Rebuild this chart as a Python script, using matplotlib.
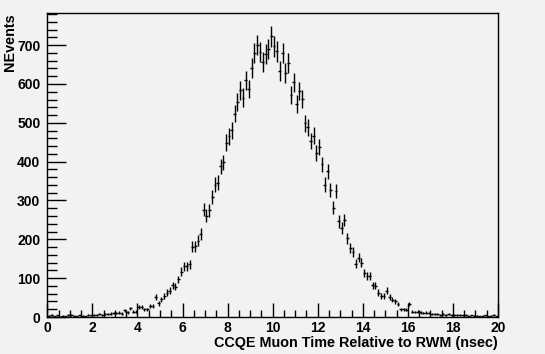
import numpy as np
import matplotlib
matplotlib.use("Agg")
import matplotlib.pyplot as plt
from matplotlib.ticker import MultipleLocator

# histogram: 160 bins between 0 and 20 nsec
bin_lo = 0.0
bin_hi = 20.0
nevents = [
    3, 5, 2, 4, 1, 3, 2, 6,
    5, 3, 2, 4, 3, 2, 5, 4,
    6, 5, 7, 6, 8, 7, 9, 10,
    10, 11, 9, 17, 12, 22, 14, 14,
    25, 25, 20, 20, 28, 28, 52, 35,
    46, 55, 63, 68, 82, 78, 97, 117,
    131, 131, 136, 181, 182, 196, 214, 276,
    261, 275, 309, 341, 346, 388, 398, 449,
    465, 481, 524, 554, 584, 565, 610, 587,
    641, 679, 700, 683, 657, 677, 690, 723,
    697, 684, 634, 680, 628, 654, 572, 604,
    548, 582, 561, 499, 488, 453, 467, 423,
    438, 393, 341, 375, 328, 281, 324, 246,
    229, 249, 203, 177, 167, 137, 153, 140,
    113, 106, 106, 82, 81, 63, 54, 54,
    68, 52, 44, 40, 33, 20, 20, 19,
    33, 14, 13, 14, 12, 10, 11, 10,
    8, 7, 8, 6, 7, 6, 7, 5,
    5, 6, 5, 4, 5, 3, 4, 3,
    3, 2, 3, 4, 2, 3, 5, 2,
]

counts = np.array(nevents, dtype=float)
nbins = len(counts)
width = (bin_hi - bin_lo) / nbins
centers = bin_lo + width * (np.arange(nbins) + 0.5)

bg = "#f2f2f2"
fig = plt.figure(figsize=(5.45, 3.54), dpi=100, facecolor=bg)
ax = fig.add_axes([0.0868, 0.1045, 0.8270, 0.8579], facecolor=bg)

ax.errorbar(centers, counts, yerr=np.sqrt(counts), xerr=width / 2,
            fmt="none", ecolor="black", elinewidth=1.0, capsize=0)

ax.set_xlim(bin_lo, bin_hi)
ax.set_ylim(0, 782)

ax.xaxis.set_major_locator(MultipleLocator(2))
ax.xaxis.set_minor_locator(MultipleLocator(0.5))
ax.yaxis.set_major_locator(MultipleLocator(100))
ax.yaxis.set_minor_locator(MultipleLocator(20))
ax.tick_params(axis="x", which="major", direction="in", length=10, width=1, pad=3)
ax.tick_params(axis="x", which="minor", direction="in", length=5, width=1)
ax.tick_params(axis="y", which="major", direction="in", length=14, width=1, pad=5)
ax.tick_params(axis="y", which="minor", direction="in", length=7.5, width=1)
ax.tick_params(top=False, right=False, labelsize=10)
for lab in ax.get_xticklabels() + ax.get_yticklabels():
    lab.set_fontweight("bold")
    lab.set_family("Liberation Sans")

for s in ax.spines.values():
    s.set_linewidth(1)
    s.set_color("black")

fig.text(0.9138, 0.031, "CCQE Muon Time Relative to RWM (nsec)", ha="right", va="center",
         fontsize=10.4, fontweight="bold", family="Liberation Sans")
fig.text(0.019, 0.9624, "NEvents", ha="center", va="top", rotation=90,
         fontsize=10.4, fontweight="bold", family="Liberation Sans")

fig.savefig("out.png", dpi=100, facecolor=bg)
